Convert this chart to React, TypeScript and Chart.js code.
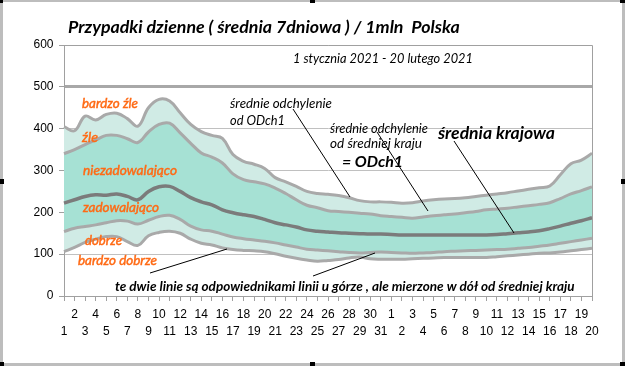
import React, { useEffect, useRef } from 'react';
import { Chart, registerables } from 'chart.js';

Chart.register(...registerables);

// ---- data ----
const DAY_LABELS = [
  '1','2','3','4','5','6','7','8','9','10','11','12','13','14','15','16','17','18','19','20',
  '21','22','23','24','25','26','27','28','29','30','31',
  '1','2','3','4','5','6','7','8','9','10','11','12','13','14','15','16','17','18','19','20',
];

const TOP_OUTER = [
  405, 395, 430, 421, 434, 437, 424, 406, 450, 470, 466, 438, 410, 393, 384, 377, 338, 322, 315, 305,
  283, 273, 262, 250, 245, 243, 240, 235, 228, 225, 225, 224, 222, 223, 227, 230, 232, 233, 235, 238,
  241, 244, 247, 251, 255, 259, 263, 290, 316, 325, 341,
];
const TOP_INNER = [
  340, 350, 362, 373, 384, 384, 376, 367, 392, 410, 413, 390, 365, 342, 332, 318, 292, 278, 273, 268,
  258, 245, 230, 217, 211, 204, 202, 200, 198, 196, 192, 190, 188, 186, 189, 192, 194, 196, 199, 202,
  206, 208, 210, 213, 216, 219, 223, 233, 244, 252, 261,
];
const MEAN = [
  222, 230, 238, 242, 241, 244, 238, 230, 250, 261, 262, 250, 235, 225, 218, 206, 199, 194, 190, 183,
  175, 170, 165, 158, 155, 153, 151, 150, 149, 148, 148, 147, 146, 146, 146, 146, 146, 146, 146, 146,
  146, 147, 149, 151, 153, 156, 161, 167, 174, 180, 187,
];
const BOTTOM_INNER = [
  154, 162, 166, 170, 175, 180, 179, 172, 181, 190, 193, 183, 167, 158, 155, 148, 141, 137, 134, 131,
  127, 122, 117, 112, 110, 108, 106, 104, 103, 104, 105, 104, 103, 102, 103, 104, 106, 107, 108, 109,
  110, 111, 112, 114, 116, 119, 122, 126, 130, 134, 138,
];
const BOTTOM_OUTER = [
  106, 116, 128, 136, 142, 142, 130, 121, 144, 152, 155, 150, 136, 126, 122, 115, 111, 109, 108, 106,
  101, 95, 90, 86, 83, 85, 87, 91, 93, 89, 88, 88, 88, 89, 90, 91, 92, 92, 92, 92,
  92, 94, 96, 98, 100, 102, 103, 105, 108, 111, 114,
];

const Y_MIN = 0;
const Y_MAX = 600;
const Y_STEP = 100;
const Y_BOLD_LINE = 500;

const TITLE = 'Przypadki dzienne ( średnia 7dniowa ) / 1mln  Polska';
const SUBTITLE = '1 stycznia 2021 - 20 lutego 2021';
const ZONE_LABELS = ['bardzo źle', 'źle', 'niezadowalająco', 'zadowalająco', 'dobrze', 'bardzo dobrze'];
const NOTE_1 = ['średnie odchylenie', 'od ODch1'];
const NOTE_2 = ['średnie odchylenie', 'od średniej kraju'];
const NOTE_2B = '= ODch1';
const NOTE_3 = 'średnia krajowa';
const NOTE_BOTTOM = 'te dwie linie są odpowiednikami linii u górze , ale mierzone w dół od średniej kraju';

// ---- styles ----
const LIGHT = 'rgb(208,235,229)';
const DARK = 'rgb(166,225,212)';
const LINE_GRAY = '#a9a9a9';
const MEAN_GRAY = '#7b7b7b';
const GRID = '#c0c0c0';
const AXIS = '#a0a0a0';
const ORANGE = '#ff6a14';
const FAMILY = 'Lato, "Open Sans", sans-serif';

type Note = { text: string; x: number; y: number; w: number; bold: boolean; color: string; stroke?: number };

const NOTES: Note[] = [
  { text: TITLE, x: 68, y: 32.5, w: 392, bold: true, color: '#000' },
  { text: SUBTITLE, x: 293, y: 62.5, w: 180, bold: false, color: '#000' },
  { text: ZONE_LABELS[0], x: 82, y: 108, w: 56, bold: false, color: ORANGE, stroke: 0.45 },
  { text: ZONE_LABELS[1], x: 82, y: 141.5, w: 16, bold: false, color: ORANGE, stroke: 0.45 },
  { text: ZONE_LABELS[2], x: 83, y: 175, w: 94, bold: false, color: ORANGE, stroke: 0.45 },
  { text: ZONE_LABELS[3], x: 83, y: 212, w: 76, bold: false, color: ORANGE, stroke: 0.45 },
  { text: ZONE_LABELS[4], x: 85, y: 245, w: 37, bold: false, color: ORANGE, stroke: 0.45 },
  { text: ZONE_LABELS[5], x: 78, y: 265, w: 79, bold: false, color: ORANGE, stroke: 0.45 },
  { text: NOTE_1[0], x: 230, y: 107.5, w: 102, bold: false, color: '#000' },
  { text: NOTE_1[1], x: 230, y: 125, w: 55, bold: false, color: '#000' },
  { text: NOTE_2[0], x: 330, y: 133, w: 98, bold: false, color: '#000' },
  { text: NOTE_2[1], x: 330, y: 148, w: 92, bold: false, color: '#000' },
  { text: NOTE_2B, x: 342, y: 167, w: 61, bold: true, color: '#000' },
  { text: NOTE_3, x: 438, y: 139, w: 117, bold: true, color: '#000' },
  { text: NOTE_BOTTOM, x: 115, y: 291, w: 460, bold: true, color: '#000' },
];

const LEADERS: [number, number, number, number][] = [
  [293, 109, 350, 197],
  [377, 132, 428, 211],
  [454, 141, 514, 233],
  [150, 273, 227, 249],
  [313, 276, 375, 253],
];

const HANDLES: [number, number, number, number][] = [
  [0, 0, 3, 3], [310, 0, 5, 3], [620, 0, 5, 3],
  [0, 179, 4, 5], [621, 179, 4, 5],
  [0, 362, 4, 4], [310, 362, 5, 4], [620, 362, 5, 4],
];

function fitFont(ctx: CanvasRenderingContext2D, n: Note): string {
  const base = 20;
  const w8 = n.bold ? 'bold' : 'normal';
  ctx.font = `italic ${w8} ${base}px ${FAMILY}`;
  const m = ctx.measureText(n.text).width || 1;
  const size = (base * n.w) / m;
  return `italic ${w8} ${size.toFixed(2)}px ${FAMILY}`;
}

const decorPlugin = {
  id: 'decor',
  afterDraw(chart: any) {
    const ctx: CanvasRenderingContext2D = chart.ctx;
    const a = chart.chartArea;
    ctx.save();
    // plot area border (top/right)
    ctx.strokeStyle = AXIS;
    ctx.lineWidth = 1;
    ctx.beginPath();
    ctx.moveTo(a.left, Math.round(a.top) + 0.5);
    ctx.lineTo(Math.round(a.right) + 0.5, Math.round(a.top) + 0.5);
    ctx.lineTo(Math.round(a.right) + 0.5, a.bottom);
    ctx.stroke();
    // leader lines
    ctx.strokeStyle = '#000';
    ctx.lineWidth = 1;
    LEADERS.forEach(([x1, y1, x2, y2]) => {
      ctx.beginPath();
      ctx.moveTo(x1, y1);
      ctx.lineTo(x2, y2);
      ctx.stroke();
    });
    // notes
    ctx.textAlign = 'left';
    ctx.textBaseline = 'alphabetic';
    NOTES.forEach((n) => {
      ctx.font = fitFont(ctx, n);
      ctx.fillStyle = n.color;
      ctx.fillText(n.text, n.x, n.y);
      if (n.stroke) {
        ctx.strokeStyle = n.color;
        ctx.lineWidth = n.stroke;
        ctx.strokeText(n.text, n.x, n.y);
      }
    });
    // frame
    const W = chart.width;
    const H = chart.height;
    ctx.fillStyle = '#bdbdbd';
    ctx.fillRect(0, 0, W, 2);
    ctx.fillRect(0, 0, 3, H);
    ctx.fillRect(W - 3, 0, 3, H);
    ctx.fillRect(0, H - 3, W, 3);
    ctx.fillStyle = '#000';
    HANDLES.forEach(([x, y, w, h]) => ctx.fillRect(x, y, w, h));
    ctx.restore();
  },
};

export default function App() {
  const ref = useRef<HTMLCanvasElement | null>(null);

  useEffect(() => {
    if (!ref.current) return;
    const common = { pointRadius: 0, pointHoverRadius: 0, tension: 0.4 };
    const chart = new Chart(ref.current, {
      type: 'line',
      data: {
        labels: DAY_LABELS,
        datasets: [
          { ...common, data: TOP_OUTER, borderColor: LINE_GRAY, borderWidth: 3, backgroundColor: LIGHT, fill: '+1' },
          { ...common, data: TOP_INNER, borderColor: LINE_GRAY, borderWidth: 3, backgroundColor: DARK, fill: 3 },
          { ...common, data: MEAN, borderColor: MEAN_GRAY, borderWidth: 3.5, fill: false },
          { ...common, data: BOTTOM_INNER, borderColor: LINE_GRAY, borderWidth: 3, backgroundColor: LIGHT, fill: '+1' },
          { ...common, data: BOTTOM_OUTER, borderColor: LINE_GRAY, borderWidth: 3, fill: false },
        ],
      } as any,
      options: {
        animation: false,
        responsive: false,
        events: [],
        layout: { padding: { top: 45, right: 33, left: 0, bottom: 0 } },
        plugins: {
          legend: { display: false },
          tooltip: { enabled: false },
          title: { display: false },
          filler: { propagate: false, drawTime: 'beforeDatasetsDraw' },
        } as any,
        scales: {
          x: {
            offset: false,
            grid: { drawOnChartArea: false, drawTicks: true, tickLength: 5, color: AXIS },
            border: { color: AXIS, width: 1 },
            ticks: {
              autoSkip: false,
              maxRotation: 0,
              minRotation: 0,
              padding: 5.5,
              color: '#000',
              font: { family: '"Liberation Sans", Arial, sans-serif', size: 12, lineHeight: 1.4 },
              callback: (_v: any, i: number) => (i % 2 === 1 ? [DAY_LABELS[i], ''] : ['', DAY_LABELS[i]]),
            },
            afterFit: (s: any) => { s.height = 70; },
          },
          y: {
            min: Y_MIN,
            max: Y_MAX,
            z: 1,
            grid: {
              color: (c: any) => (c.tick && c.tick.value === Y_BOLD_LINE ? '#a8a8a8' : GRID),
              lineWidth: (c: any) => (c.tick && c.tick.value === Y_BOLD_LINE ? 3 : 1),
              tickColor: AXIS,
              tickWidth: 1,
              tickLength: 5,
            },
            border: { color: AXIS, width: 1 },
            ticks: {
              stepSize: Y_STEP,
              padding: 5.5,
              color: '#000',
              font: { family: '"Liberation Sans", Arial, sans-serif', size: 12 },
            },
            afterFit: (s: any) => { s.width = 64; },
          },
        },
      } as any,
      plugins: [decorPlugin],
    });
    return () => chart.destroy();
  }, []);

  return (
    <div style={{ position: 'absolute', left: 0, top: 0, width: 625, height: 366, background: '#fff' }}>
      <canvas ref={ref} width={625} height={366} style={{ display: 'block' }} />
    </div>
  );
}
